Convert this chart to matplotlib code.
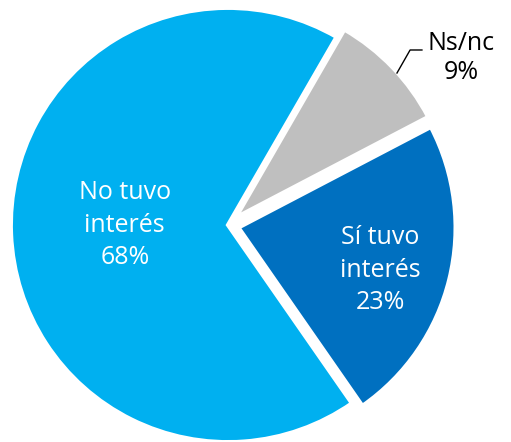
import matplotlib.pyplot as plt

# datos
categorias = ['No tuvo\ninterés', 'Sí tuvo\ninterés', 'Ns/nc']
valores = [68, 23, 9]
colores = ['#00B0F0', '#0070C0', '#BFBFBF']
separacion = [0, 0.05, 0.05]

# posiciones de las etiquetas (coordenadas del eje)
pos_etiquetas = [(-0.48, 0.0), (0.71, -0.21), (1.085, 0.775)]
color_texto = ['white', 'white', 'black']

plt.rcParams['font.family'] = ['Open Sans', 'DejaVu Sans']

fig = plt.figure(figsize=(5.11, 4.42), dpi=100)
ax = fig.add_axes([0, 0, 1, 1])

wedges, _ = ax.pie(valores, colors=colores, startangle=60, explode=separacion,
                   radius=1.01, wedgeprops=dict(edgecolor='white', linewidth=3))

for i, (cat, val, (x, y), c) in enumerate(zip(categorias, valores, pos_etiquetas, color_texto)):
    ax.text(x, y, f'{cat}\n{val}%', ha='center', va='center', fontsize=18,
            color=c, linespacing=1.4 if i < 2 else 1.2)

# línea guía de Ns/nc
ax.plot([0.786, 0.847, 0.902], [0.707, 0.814, 0.814], color='black', linewidth=1)

ax.set_xlim(-228 / 215, (511 - 228) / 215)
ax.set_ylim(-(442 - 225) / 215, 225 / 215)
ax.set_aspect('equal')
ax.axis('off')

fig.savefig('out.png', dpi=100)
